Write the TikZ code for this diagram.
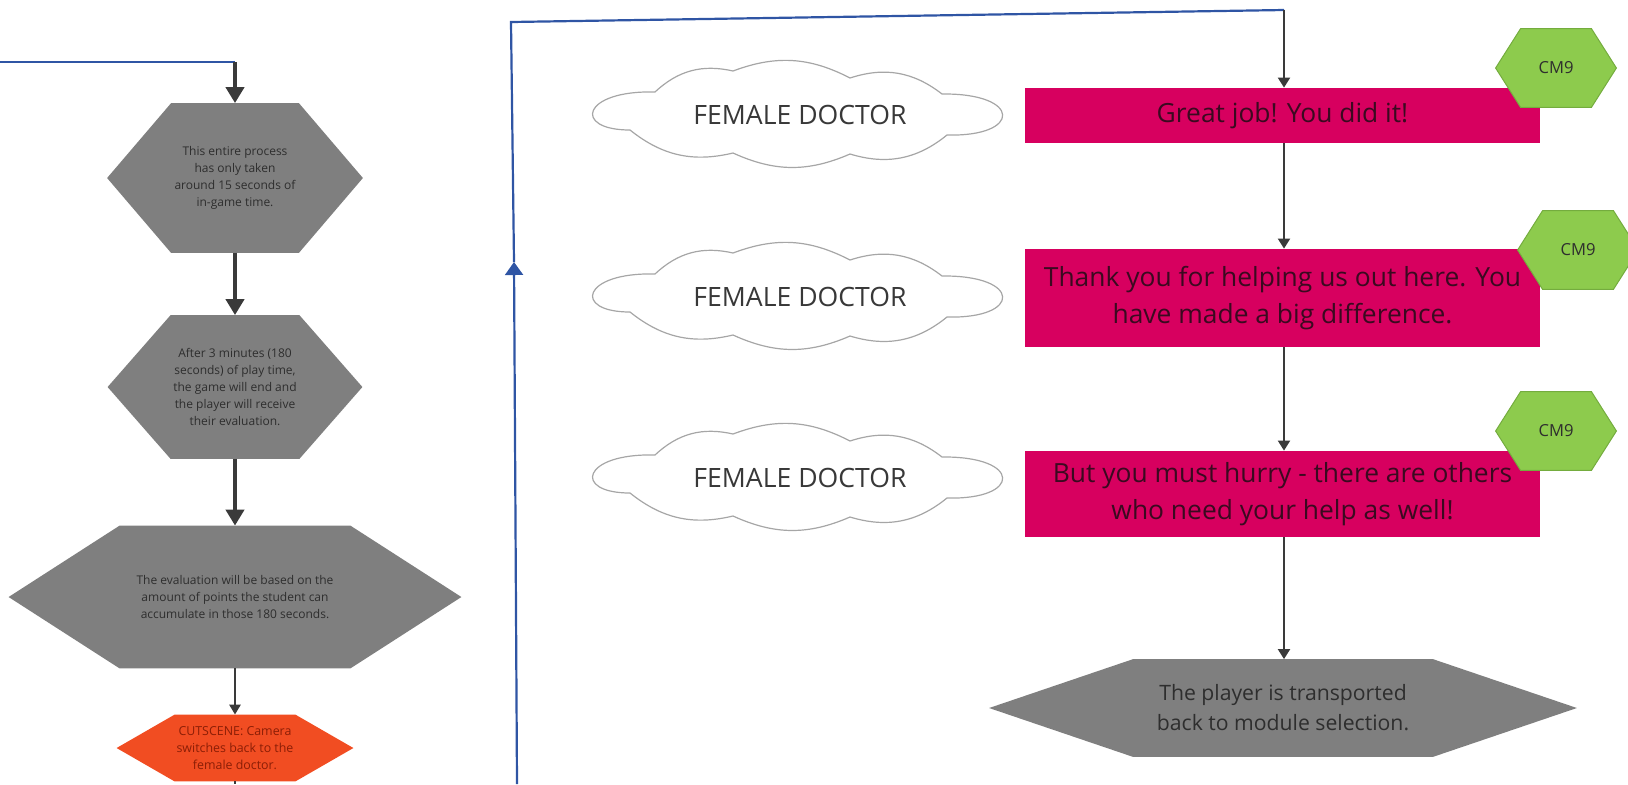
\documentclass[tikz,border=0pt]{standalone}
\usepackage{fontspec}
\setmainfont{Open Sans}
\usetikzlibrary{arrows.meta}

\definecolor{hexgray}{HTML}{7F7F7F}
\definecolor{hextext}{HTML}{2E2E2E}
\definecolor{linemagenta}{HTML}{D7005F}
\definecolor{linetext}{HTML}{3A0A20}
\definecolor{cmgreen}{HTML}{8DCB4D}
\definecolor{cmedge}{HTML}{74AC3E}
\definecolor{cutorange}{HTML}{F14D22}
\definecolor{cuttext}{HTML}{8B1E06}
\definecolor{arrowgray}{HTML}{3A3A3A}
\definecolor{loopblue}{HTML}{2F55A4}
\definecolor{cloudedge}{HTML}{A6A6A6}

\pgfdeclarelayer{background}
\pgfsetlayers{background,main}

% hexagonal backdrop behind a named rectangular node: node, corner inset, fill style
\newcommand{\hexfill}[3]{%
  \begin{pgfonlayer}{background}
    \path[#3] ([xshift=#2]#1.north west) -- ([xshift=-#2]#1.north east) -- (#1.east)
      -- ([xshift=-#2]#1.south east) -- ([xshift=#2]#1.south west) -- (#1.west) -- cycle;
  \end{pgfonlayer}}
% rectangular backdrop behind a named node
\newcommand{\boxfill}[2]{%
  \begin{pgfonlayer}{background}
    \path[#2] (#1.north west) rectangle (#1.south east);
  \end{pgfonlayer}}
% wide, flat thought cloud around a named node
\newcommand{\cloudoutline}[1]{%
  \begin{pgfonlayer}{background}
    \begin{scope}[shift={(#1.center)}]
      \path[cloudline] (-145,-23) to[bend left=28] (-67,-44) to[bend left=24] (50,-37)
        to[bend left=28] (142,-21) .. controls (222,-22) and (222,22) .. (147,20)
        to[bend left=28] (50,39) to[bend left=24] (-67,38) to[bend left=26] (-170,15)
        .. controls (-228,15) and (-218,-25) .. (-145,-23) -- cycle;
    \end{scope}
  \end{pgfonlayer}}

\tikzset{
  frame/.style={rectangle, inner sep=0pt, align=center},
  greytext/.style={frame, text=hextext, font=\fontsize{6}{8.4}\selectfont},
  linetextstyle/.style={frame, text=linetext, font=\fontsize{13.2}{18.5}\selectfont},
  cmtext/.style={frame, text=hextext, font=\fontsize{8.3}{10}\selectfont,
    minimum width=60pt, minimum height=39pt},
  speaker/.style={frame, text=black!78, font=\fontsize{13.3}{16}\selectfont},
  cloudline/.style={draw=cloudedge, line width=0.6pt, fill=white},
  flowthick/.style={draw=arrowgray, line width=2.2pt, -{Triangle[length=8pt,width=9pt]}},
  flowmid/.style={draw=arrowgray, line width=1.4pt, -{Triangle[length=5pt,width=5.5pt]}},
  flowthin/.style={draw=arrowgray, line width=1pt, -{Triangle[length=5pt,width=6pt]}},
  loopline/.style={draw=loopblue, line width=1.1pt},
  looparrow/.style={loopline, -{Triangle[length=6.5pt,width=9pt]}},
  greyfill/.style={fill=hexgray},
  cmfill/.style={fill=cmgreen, draw=cmedge, line width=0.5pt},
  linefill/.style={fill=linemagenta},
}

\begin{document}
\begin{tikzpicture}[x=0.5pt, y=-0.5pt]
\useasboundingbox (0,0) rectangle (1628,784);

% ---------- left column: end of the timed session ----------
\node[greytext, minimum width=127.5pt, minimum height=74.5pt] (h1) at (235,178)
  {This entire process\\has only taken\\around 15 seconds of\\in-game time.};
\hexfill{h1}{32pt}{greyfill}

\node[greytext, minimum width=127pt, minimum height=71.5pt] (h2) at (235,387)
  {After 3 minutes (180\\seconds) of play time,\\the game will end and\\the player will receive\\their evaluation.};
\hexfill{h2}{31.5pt}{greyfill}

\node[greytext, minimum width=226pt, minimum height=71pt] (h3) at (235,597)
  {The evaluation will be based on the\\amount of points the student can\\accumulate in those 180 seconds.};
\hexfill{h3}{55.5pt}{greyfill}

\node[greytext, text=cuttext, font=\fontsize{6.2}{8.5}\selectfont,
      minimum width=118pt, minimum height=33pt] (cut) at (235,748)
  {CUTSCENE: Camera\\switches back to the\\female doctor.};
\hexfill{cut}{29pt}{fill=cutorange}

\coordinate (inL0) at (0,62);
\coordinate (inL1) at (235,62);
\coordinate (outL) at (235,784);

\draw[loopline] (inL0) -- (inL1);
\draw[flowthick] (inL1) -- (h1.north);
\draw[flowthick] (h1.south) -- (h2.north);
\draw[flowthick] (h2.south) -- (h3.north);
\draw[flowmid] (h3.south) -- (cut.north);
\draw[arrowgray, line width=1pt] (cut.south) -- (outL);

% ---------- right column: the doctor's closing lines ----------
\node[speaker] (d1) at (800,115) {FEMALE DOCTOR};
\cloudoutline{d1}
\node[speaker] (d2) at (800,297) {FEMALE DOCTOR};
\cloudoutline{d2}
\node[speaker] (d3) at (800,478) {FEMALE DOCTOR};
\cloudoutline{d3}

\node[linetextstyle, minimum width=257.5pt, minimum height=27.5pt] (r1) at (1282.5,115.5)
  {Great job! You did it!};
\boxfill{r1}{linefill}
\node[linetextstyle, minimum width=257.5pt, minimum height=49pt] (r2) at (1282.5,298)
  {Thank you for helping us out here. You\\have made a big difference.};
\boxfill{r2}{linefill}
\node[linetextstyle, minimum width=257.5pt, minimum height=43pt] (r3) at (1282.5,494)
  {But you must hurry - there are others\\who need your help as well!};
\boxfill{r3}{linefill}

\node[cmtext] (c1) at (1556,68) {CM9};
\hexfill{c1}{12.5pt}{cmfill}
\node[cmtext] (c2) at (1578,250) {CM9};
\hexfill{c2}{12.5pt}{cmfill}
\node[cmtext] (c3) at (1556,431) {CM9};
\hexfill{c3}{12.5pt}{cmfill}

\node[greytext, font=\fontsize{10.6}{15}\selectfont,
      minimum width=293.5pt, minimum height=48.5pt] (hb) at (1283,708)
  {The player is transported\\back to module selection.};
\hexfill{hb}{72pt}{greyfill}

% loop back from the bottom of the page to the top of this column
\coordinate (inR0) at (517,784);
\coordinate (inR1) at (514,262);
\coordinate (inR2) at (511,22);
\coordinate (inR3) at (1284,10);

\draw[looparrow] (inR0) -- (inR1);
\draw[loopline] (inR1) -- (inR2) -- (inR3);
\draw[flowthin] (inR3) -- (inR3 |- r1.north);
\draw[flowthin] (r1.south -| inR3) -- (inR3 |- r2.north);
\draw[flowthin] (r2.south -| inR3) -- (inR3 |- r3.north);
\draw[flowthin] (r3.south -| inR3) -- (hb.north -| inR3);
\end{tikzpicture}
\end{document}
